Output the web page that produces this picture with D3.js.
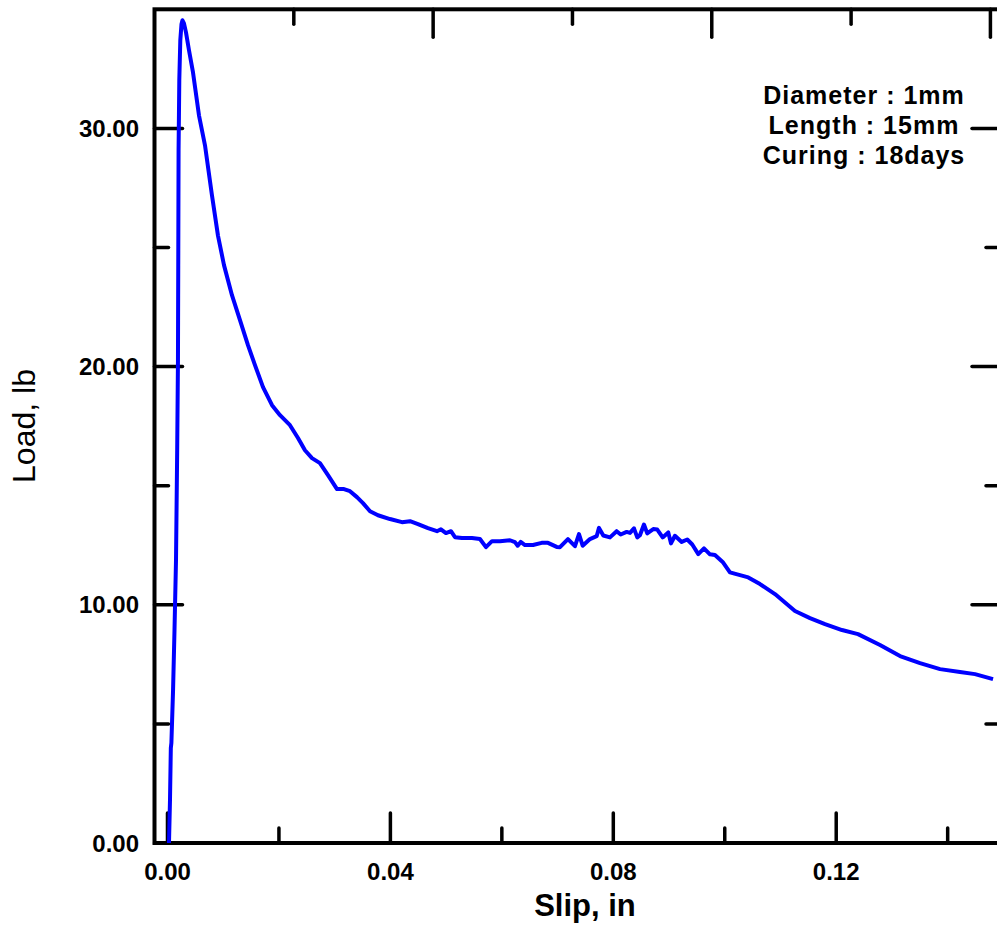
<!DOCTYPE html>
<html>
<head>
<meta charset="utf-8">
<script src="https://cdn.jsdelivr.net/npm/d3@7"></script>
<style>
  body { margin: 0; background: white; }
  text { font-family: 'Liberation Sans', Arial, sans-serif; }
</style>
</head>
<body>
<div id="main"></div>
<script>
// slip (in) vs load (lb)
var slip = [
  0.00027, 0.00045, 0.0006, 0.0007, 0.001, 0.00126, 0.00153, 0.00174, 0.00188, 0.00194,
  0.00199, 0.00212, 0.0023, 0.00251, 0.00269, 0.00296, 0.00332, 0.00386, 0.00458, 0.00565,
  0.00673, 0.00798, 0.00906, 0.01014, 0.01157, 0.01301, 0.01444, 0.0157, 0.01714, 0.01876,
  0.02019, 0.02198, 0.02342, 0.02467, 0.02593, 0.02736, 0.0288, 0.03042, 0.03167, 0.03275,
  0.034, 0.03508, 0.03634, 0.03777, 0.03993, 0.04208, 0.04352, 0.04495, 0.04674, 0.04836,
  0.04907, 0.04997, 0.05087, 0.05159, 0.05284, 0.05464, 0.05607, 0.05715, 0.05823, 0.05966,
  0.06145, 0.06235, 0.06284, 0.06338, 0.06415, 0.06559, 0.06714, 0.06828, 0.06984, 0.07043,
  0.07186, 0.07312, 0.07384, 0.0745, 0.07581, 0.07701, 0.07743, 0.0782, 0.0794, 0.0806,
  0.08132, 0.0824, 0.08299, 0.08371, 0.0843, 0.08478, 0.0855, 0.08609, 0.08717, 0.08789,
  0.08886, 0.08986, 0.09035, 0.09106, 0.09227, 0.09327, 0.09417, 0.09525, 0.09627, 0.09734,
  0.09824, 0.09962, 0.10093, 0.10422, 0.10632, 0.10901, 0.1126, 0.11529, 0.11799, 0.12104,
  0.12391, 0.12786, 0.13145, 0.13504, 0.13863, 0.14221, 0.14491, 0.14814
]
var load = [
  0, 1.8, 3.99, 4.2, 6.42, 8.94, 11.88, 16.49, 20.27, 24.88,
  29.08, 32.02, 33.7, 34.37, 34.54, 34.41, 34.03, 33.28, 32.35, 30.55,
  29.29, 27.19, 25.5, 24.26, 23.0, 21.95, 20.9, 20.06, 19.14, 18.38,
  17.96, 17.54, 17.0, 16.49, 16.16, 15.95, 15.44, 14.86, 14.86, 14.77,
  14.52, 14.27, 13.93, 13.76, 13.6, 13.47, 13.51, 13.39, 13.22, 13.09,
  13.17, 13.01, 13.09, 12.84, 12.8, 12.8, 12.76, 12.42, 12.67, 12.67,
  12.71, 12.63, 12.48, 12.64, 12.51, 12.51, 12.6, 12.6, 12.43, 12.42,
  12.76, 12.46, 12.97, 12.48, 12.76, 12.88, 13.23, 12.91, 12.83, 13.09,
  12.95, 13.06, 13.02, 13.21, 12.83, 12.92, 13.37, 13.0, 13.18, 13.16,
  12.83, 13.04, 12.58, 12.9, 12.64, 12.74, 12.53, 12.13, 12.37, 12.12,
  12.09, 11.8, 11.36, 11.15, 10.87, 10.45, 9.74, 9.44, 9.19, 8.94,
  8.77, 8.31, 7.85, 7.55, 7.3, 7.18, 7.09, 6.88
]

var x_ticks = [0, 0.02, 0.04, 0.06, 0.08, 0.1, 0.12, 0.14]
var x_labels = [0, 0.04, 0.08, 0.12]
var top_ticks = [0.025, 0.05, 0.075, 0.1, 0.125, 0.15]
var y_ticks = [0, 5, 10, 15, 20, 25, 30]
var y_labels = [0, 10, 20, 30]
var notes = ['Diameter : 1mm', 'Length : 15mm', 'Curing : 18days']

var w = 997
var h = 926
var left = 154.5
var right = 1000
var top_y = 9.3
var bottom = 843

var svg = d3.select('div#main').append('svg')
  .attr('width', w)
  .attr('height', h)

var scale_x = d3.scaleLinear().domain([-0.00233, 0.14939]).range([left, right])
var scale_top = d3.scaleLinear().domain([0, 0.15172]).range([left, right])
var scale_y = d3.scaleLinear().domain([0, 35]).range([bottom, top_y])

function is_major (v, step) {
  return Math.abs(Math.round(v / step) * step - v) < 1e-9
}

// frame
svg.append('rect')
  .attr('x', left)
  .attr('y', top_y)
  .attr('width', right - left)
  .attr('height', bottom - top_y)
  .attr('fill', 'none')
  .attr('stroke', 'black')
  .attr('stroke-width', 4)

// bottom ticks
x_ticks.forEach(function (v) {
  var len = is_major(v, 0.04) ? 30 : 15
  svg.append('line')
    .attr('x1', scale_x(v)).attr('x2', scale_x(v))
    .attr('y1', bottom).attr('y2', bottom - len)
    .attr('stroke', 'black').attr('stroke-width', 3.5)
    .attr('stroke-linecap', 'round')
})
x_labels.forEach(function (v) {
  svg.append('text').text(d3.format('.2f')(v))
    .attr('x', scale_x(v))
    .attr('y', 880)
    .attr('text-anchor', 'middle')
    .style('font-size', '24px')
    .style('font-weight', 'bold')
})

// top ticks
top_ticks.forEach(function (v) {
  var len = is_major(v, 0.05) ? 28 : 15
  svg.append('line')
    .attr('x1', scale_top(v)).attr('x2', scale_top(v))
    .attr('y1', top_y).attr('y2', top_y + len)
    .attr('stroke', 'black').attr('stroke-width', 3.5)
    .attr('stroke-linecap', 'round')
})

// left and right ticks
y_ticks.forEach(function (v) {
  var len = is_major(v, 10) ? 28 : 14
  svg.append('line')
    .attr('x1', left).attr('x2', left + len)
    .attr('y1', scale_y(v)).attr('y2', scale_y(v))
    .attr('stroke', 'black').attr('stroke-width', 3.5)
    .attr('stroke-linecap', 'round')
  svg.append('line')
    .attr('x1', right).attr('x2', right - len)
    .attr('y1', scale_y(v)).attr('y2', scale_y(v))
    .attr('stroke', 'black').attr('stroke-width', 3.5)
    .attr('stroke-linecap', 'round')
})
y_labels.forEach(function (v) {
  svg.append('text').text(d3.format('.2f')(v))
    .attr('x', 139)
    .attr('y', scale_y(v) + 8.5)
    .attr('text-anchor', 'end')
    .style('font-size', '24px')
    .style('font-weight', 'bold')
})

// axis titles
svg.append('text').text('Slip, in')
  .attr('x', 585)
  .attr('y', 916)
  .attr('text-anchor', 'middle')
  .style('font-size', '31px')
  .style('font-weight', 'bold')

svg.append('text').text('Load, lb')
  .attr('transform', 'translate(35,426) rotate(-90)')
  .attr('text-anchor', 'middle')
  .style('font-size', '32px')

// specimen notes
notes.forEach(function (t, i) {
  svg.append('text').text(t)
    .attr('x', 864)
    .attr('y', 104 + i * 30)
    .attr('text-anchor', 'middle')
    .style('font-size', '25px')
    .style('font-weight', 'bold')
    .style('letter-spacing', '1px')
})

// curve
var line = d3.line()
  .x(function (d, i) { return scale_x(slip[i]) })
  .y(function (d, i) { return scale_y(load[i]) })

svg.append('path')
  .attr('d', line(slip))
  .attr('fill', 'none')
  .attr('stroke', 'rgb(0,0,255)')
  .attr('stroke-width', 4)
  .attr('stroke-linejoin', 'round')
</script>
</body>
</html>
